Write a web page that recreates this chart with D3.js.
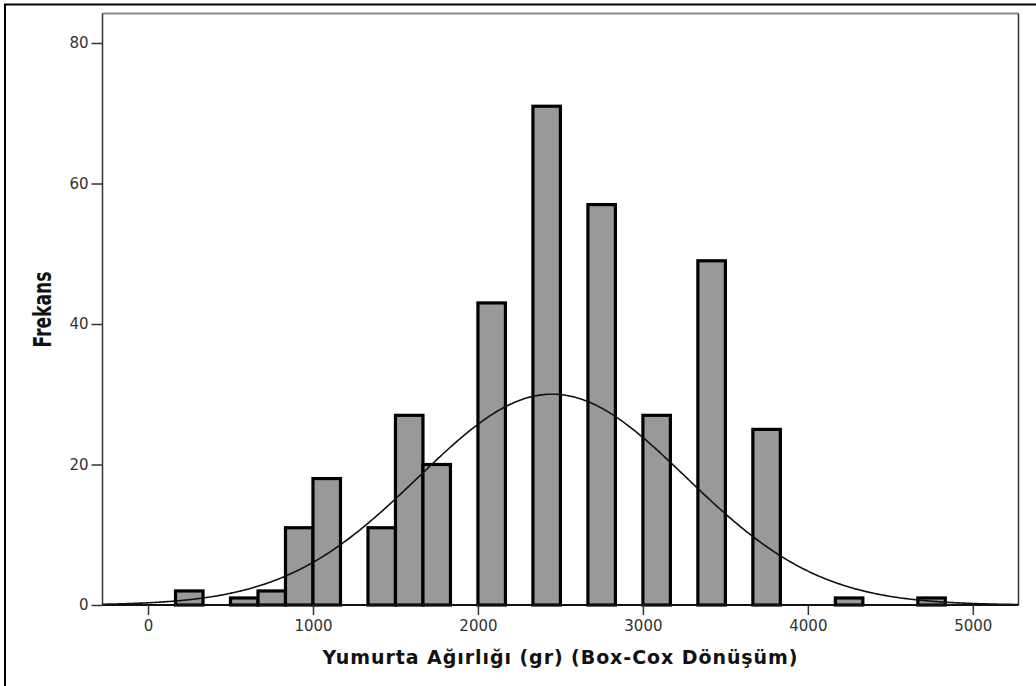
<!DOCTYPE html>
<html>
<head>
<meta charset="utf-8">
<script src="https://cdn.jsdelivr.net/npm/d3@7"></script>
<style>
  html, body { margin: 0; padding: 0; background: #fff; }
  svg { display: block; }
</style>
</head>
<body>
<svg id="chart" width="1036" height="686"></svg>
<script>
// ---- data ----
const binLow = [166.67, 500, 666.67, 833.33, 1000, 1333.33, 1500, 1666.67, 2000, 2333.33, 2666.67, 3000, 3333.33, 3666.67, 4166.67, 4666.67];
const counts = [2, 1, 2, 11, 18, 11, 27, 20, 43, 71, 57, 27, 49, 25, 1, 1];
const binWidth = 166.67;
const xTicks = [0, 1000, 2000, 3000, 4000, 5000];
const yTicks = [0, 20, 40, 60, 80];
const fitMean = 2450;
const fitSD = 811;
const fitN = 366;
const xTitle = "Yumurta Ağırlığı (gr) (Box-Cox Dönüşüm)";
const yTitle = "Frekans";

// ---- layout ----
const svg = d3.select("#chart");
const plot = { left: 102.5, right: 1018.5, top: 13.5, bottom: 605 };

const x = d3.scaleLinear().domain([-276, 5277]).range([plot.left, plot.right]);
const y = d3.scaleLinear().domain([0, 84.2]).range([plot.bottom, plot.top]);

// outer frame (top + left only, as cropped in the reference)
svg.append("line").attr("x1", 4).attr("x2", 1036).attr("y1", 4.5).attr("y2", 4.5)
  .attr("stroke", "#000").attr("stroke-width", 2);
svg.append("line").attr("x1", 5).attr("x2", 5).attr("y1", 4).attr("y2", 686)
  .attr("stroke", "#000").attr("stroke-width", 2);

// plot frame
svg.append("line").attr("x1", plot.left).attr("x2", plot.right).attr("y1", plot.top).attr("y2", plot.top)
  .attr("stroke", "#8c8c8c").attr("stroke-width", 2);
svg.append("line").attr("x1", plot.right).attr("x2", plot.right).attr("y1", plot.top).attr("y2", plot.bottom)
  .attr("stroke", "#333").attr("stroke-width", 1.5);

// bars
const bars = binLow.map((b, i) => ({ x0: b, x1: b + binWidth, n: counts[i] }));
svg.append("g").selectAll("rect").data(bars).join("rect")
  .attr("x", d => x(d.x0))
  .attr("y", d => y(d.n))
  .attr("width", d => x(d.x1) - x(d.x0))
  .attr("height", d => y(0) - y(d.n))
  .attr("fill", "#999999")
  .attr("stroke", "#000")
  .attr("stroke-width", 3.2);

// normal curve
const xs = d3.range(-276, 5277, 10).concat([5277]);
const dens = v => fitN * binWidth / (fitSD * Math.sqrt(2 * Math.PI)) * Math.exp(-((v - fitMean) ** 2) / (2 * fitSD * fitSD));
svg.append("path")
  .attr("d", d3.line().x(v => x(v)).y(v => y(dens(v))).curve(d3.curveMonotoneX)(xs))
  .attr("fill", "none").attr("stroke", "#111").attr("stroke-width", 1.6);

// axes
const yAxis = svg.append("g").attr("transform", `translate(${plot.left},0)`)
  .call(d3.axisLeft(y).tickValues(yTicks).tickSize(11).tickPadding(3).tickFormat(d3.format("d")));
yAxis.select(".domain").attr("stroke", "#333").attr("stroke-width", 1.5)
  .attr("d", `M0,${plot.top}V${plot.bottom}`);
yAxis.selectAll(".tick line").attr("stroke", "#333").attr("stroke-width", 1.5);
yAxis.selectAll(".tick text").attr("fill", "#333").style("font-family", "DejaVu Sans, sans-serif").style("font-size", "15px");

const xAxis = svg.append("g").attr("transform", `translate(0,${plot.bottom})`)
  .call(d3.axisBottom(x).tickValues(xTicks).tickSize(10).tickPadding(5).tickFormat(d3.format("d")));
xAxis.select(".domain").attr("stroke", "#111").attr("stroke-width", 1.8)
  .attr("d", `M${plot.left},0H${plot.right}`);
xAxis.selectAll(".tick line").attr("stroke", "#333").attr("stroke-width", 1.5);
xAxis.selectAll(".tick text").attr("fill", "#333").style("font-family", "DejaVu Sans, sans-serif").style("font-size", "15px");

// titles
svg.append("text")
  .attr("x", 560).attr("y", 664)
  .attr("text-anchor", "middle")
  .attr("textLength", 475).attr("lengthAdjust", "spacing")
  .style("font-family", "DejaVu Sans, sans-serif").style("font-weight", "bold").style("font-size", "19px")
  .attr("fill", "#111")
  .text(xTitle);

svg.append("text")
  .attr("transform", "translate(51,309.5) rotate(-90)")
  .attr("text-anchor", "middle")
  .attr("textLength", 76).attr("lengthAdjust", "spacingAndGlyphs")
  .style("font-family", "'Liberation Sans Narrow', 'DejaVu Sans Condensed', sans-serif")
  .style("font-weight", "bold").style("font-size", "24px")
  .attr("fill", "#111")
  .text(yTitle);
</script>
</body>
</html>
